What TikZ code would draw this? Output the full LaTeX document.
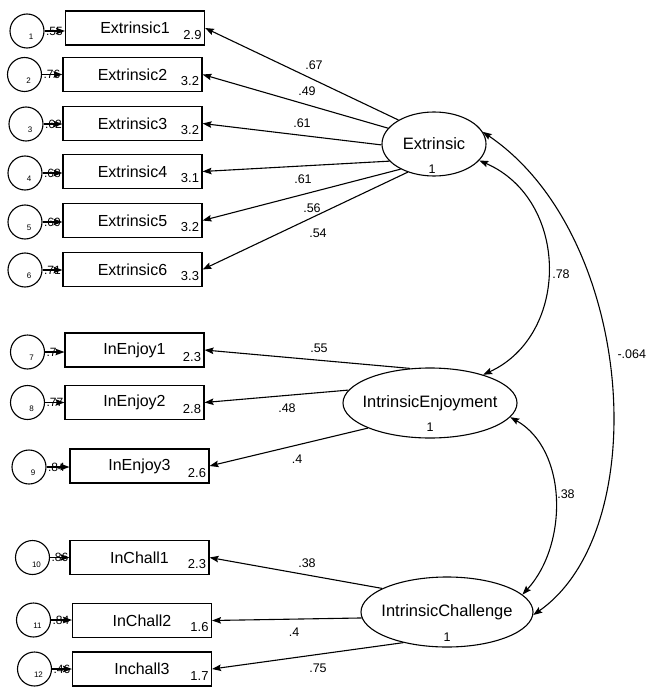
\documentclass[tikz,border=0pt]{standalone}
\usepackage{fontspec}
\setmainfont{Liberation Sans}
\usetikzlibrary{arrows.meta,shapes.geometric}

\begin{document}
\begin{tikzpicture}[x=1pt,y=-1pt,line width=1.1pt,
  tipr/.style={-{Stealth[length=9pt,width=6.5pt,inset=1.5pt]}},
  tipb/.style={{Stealth[length=9pt,width=6.5pt,inset=1.5pt]}-{Stealth[length=9pt,width=6.5pt,inset=1.5pt]}},
  obs/.style={draw,rectangle,minimum width=139pt,minimum height=34pt,inner sep=0pt,
              font=\fontsize{16}{18}\selectfont},
  lat/.style={draw,ellipse,inner sep=0pt},
  lname/.style={inner sep=0pt,font=\fontsize{16.5}{19}\selectfont},
  err/.style={draw,circle,minimum size=34pt,inner sep=0pt},
  enum/.style={inner sep=0pt,font=\fontsize{8}{9}\selectfont},
  val/.style={inner sep=0pt,anchor=base east,font=\fontsize{13}{15}\selectfont},
  coef/.style={inner sep=0pt,font=\fontsize{12.5}{14}\selectfont},
  ecoef/.style={inner sep=0pt,anchor=west,font=\fontsize{12}{14}\selectfont}]
\useasboundingbox (0,0) rectangle (645,687);

% observed indicators
\node[obs] (b1)  at (135,28)    {Extrinsic1};
\node[obs] (b2)  at (132.5,74.5) {Extrinsic2};
\node[obs] (b3)  at (132.5,123.5) {Extrinsic3};
\node[obs] (b4)  at (132.5,171.5) {Extrinsic4};
\node[obs] (b5)  at (132.5,220.5) {Extrinsic5};
\node[obs] (b6)  at (132.5,269.5) {Extrinsic6};
\node[obs] (b7)  at (134.5,350)  {InEnjoy1};
\node[obs] (b8)  at (134.5,402.5) {InEnjoy2};
\node[obs] (b9)  at (139.5,466)  {InEnjoy3};
\node[obs] (b10) at (139.5,557.5) {InChall1};
\node[obs] (b11) at (142,620.5)  {InChall2};
\node[obs] (b12) at (142,669)    {Inchall3};

% intercepts
\node[val] (v1)  at ([xshift=-3pt,yshift=6.5pt]b1.south east)  {2.9};
\node[val] (v2)  at ([xshift=-3pt,yshift=6.5pt]b2.south east)  {3.2};
\node[val] (v3)  at ([xshift=-3pt,yshift=6.5pt]b3.south east)  {3.2};
\node[val] (v4)  at ([xshift=-3pt,yshift=6.5pt]b4.south east)  {3.1};
\node[val] (v5)  at ([xshift=-3pt,yshift=6.5pt]b5.south east)  {3.2};
\node[val] (v6)  at ([xshift=-3pt,yshift=6.5pt]b6.south east)  {3.3};
\node[val] (v7)  at ([xshift=-3pt,yshift=6.5pt]b7.south east)  {2.3};
\node[val] (v8)  at ([xshift=-3pt,yshift=6.5pt]b8.south east)  {2.8};
\node[val] (v9)  at ([xshift=-3pt,yshift=6.5pt]b9.south east)  {2.6};
\node[val] (v10) at ([xshift=-3pt,yshift=6.5pt]b10.south east) {2.3};
\node[val] (v11) at ([xshift=-3pt,yshift=6.5pt]b11.south east) {1.6};
\node[val] (v12) at ([xshift=-3pt,yshift=6.5pt]b12.south east) {1.7};

% error terms
\node[err] (e1)  at (27,31)    {};
\node[err] (e2)  at (24.5,74.5) {};
\node[err] (e3)  at (26,124)   {};
\node[err] (e4)  at (25,173)   {};
\node[err] (e5)  at (25,222)   {};
\node[err] (e6)  at (25,270)   {};
\node[err] (e7)  at (27.5,352) {};
\node[err] (e8)  at (27.5,402.5) {};
\node[err] (e9)  at (29,467)   {};
\node[err] (e10) at (32.5,557.5) {};
\node[err] (e11) at (33.5,620) {};
\node[err] (e12) at (34.5,669) {};

\node[enum] (n1)  at ([xshift=4pt,yshift=-6pt]e1.center)  {1};
\node[enum] (n2)  at ([xshift=4pt,yshift=-6pt]e2.center)  {2};
\node[enum] (n3)  at ([xshift=4pt,yshift=-6pt]e3.center)  {3};
\node[enum] (n4)  at ([xshift=4pt,yshift=-6pt]e4.center)  {4};
\node[enum] (n5)  at ([xshift=4pt,yshift=-6pt]e5.center)  {5};
\node[enum] (n6)  at ([xshift=4pt,yshift=-6pt]e6.center)  {6};
\node[enum] (n7)  at ([xshift=4pt,yshift=-6pt]e7.center)  {7};
\node[enum] (n8)  at ([xshift=4pt,yshift=-6pt]e8.center)  {8};
\node[enum] (n9)  at ([xshift=4pt,yshift=-6pt]e9.center)  {9};
\node[enum] (n10) at ([xshift=4pt,yshift=-7pt]e10.center) {10};
\node[enum] (n11) at ([xshift=4pt,yshift=-6pt]e11.center) {11};
\node[enum] (n12) at ([xshift=4pt,yshift=-6pt]e12.center) {12};

% squared multiple correlations, partly hidden under the error arrows
\node[ecoef] (r1)  at ([xshift=1pt]e1.east)  {.55};
\node[ecoef] (r2)  at ([xshift=1pt]e2.east)  {.76};
\node[ecoef] (r3)  at ([xshift=1pt]e3.east)  {.62};
\node[ecoef] (r4)  at ([xshift=1pt]e4.east)  {.68};
\node[ecoef] (r5)  at ([xshift=1pt]e5.east)  {.69};
\node[ecoef] (r6)  at ([xshift=1pt]e6.east)  {.71};
\node[ecoef] (r7)  at ([xshift=1pt]e7.east)  {.7};
\node[ecoef] (r8)  at ([xshift=1pt]e8.east)  {.77};
\node[ecoef] (r9)  at ([xshift=1pt]e9.east)  {.84};
\node[ecoef] (r10) at ([xshift=1pt]e10.east) {.86};
\node[ecoef] (r11) at ([xshift=1pt]e11.east) {.84};
\node[ecoef] (r12) at ([xshift=1pt]e12.east) {.46};

\foreach \k in {1,...,12}
  \draw[tipr] (e\k.east) -- (e\k.east -| b\k.west);

% latent factors
\node[lat,minimum width=104pt,minimum height=64pt] (E)  at (434,144) {};
\node[lat,minimum width=174pt,minimum height=70pt] (IE) at (430,403) {};
\node[lat,minimum width=172pt,minimum height=70pt] (IC) at (447,612) {};
\node[lname] (Et)  at (E.center)  {Extrinsic};
\node[lname] (IEt) at (IE.center) {IntrinsicEnjoyment};
\node[lname] (ICt) at (IC.center) {IntrinsicChallenge};
\node[coef] (Ev)  at ([xshift=-2pt,yshift=-25pt]E.center) {1};
\node[coef] (IEv) at ([yshift=-24pt]IE.center) {1};
\node[coef] (ICv) at ([yshift=-25pt]IC.center) {1};

% loadings
\draw[tipr] (E.146) -- (b1.east);
\draw[tipr] (E.161) -- (b2.east);
\draw[tipr] (E.181) -- (b3.east);
\draw[tipr] (E.201) -- (b4.east);
\draw[tipr] (E.217) -- (b5.east);
\draw[tipr] (E.227) -- (b6.east);
\draw[tipr] (IE.120) -- (b7.east);
\draw[tipr] (IE.171) -- (b8.east);
\draw[tipr] (IE.202) -- (b9.east);
\draw[tipr] (IC.160) -- (b10.east);
\draw[tipr] (IC.184) -- (b11.east);
\draw[tipr] (IC.215) -- (b12.east);

\node[coef] (l1)  at (314,65)    {.67};
\node[coef] (l2)  at (307,91.5)  {.49};
\node[coef] (l3)  at (302,123)   {.61};
\node[coef] (l4)  at (303,179.5) {.61};
\node[coef] (l5)  at (312,208)   {.56};
\node[coef] (l6)  at (318,233.5) {.54};
\node[coef] (l7)  at (319,348.5) {.55};
\node[coef] (l8)  at (287,408.5) {.48};
\node[coef] (l9)  at (297,459.5) {.4};
\node[coef] (l10) at (307,563)   {.38};
\node[coef] (l11) at (294,632)   {.4};
\node[coef] (l12) at (318,668)   {.75};

% factor covariances
\draw[tipb] (E.-20) .. controls (570,200) and (570,335) .. (IE.28);
\draw[tipb] (IE.-10) .. controls (568,450) and (568,545) .. (IC.13);
\draw[tipb] (E.14) .. controls (635,235) and (655,530) .. (IC.-2);
\node[coef] (c1) at (561,274) {.78};
\node[coef] (c2) at (566,494) {.38};
\node[coef,anchor=west] (c3) at (617,354) {-.064};
\end{tikzpicture}
\end{document}
